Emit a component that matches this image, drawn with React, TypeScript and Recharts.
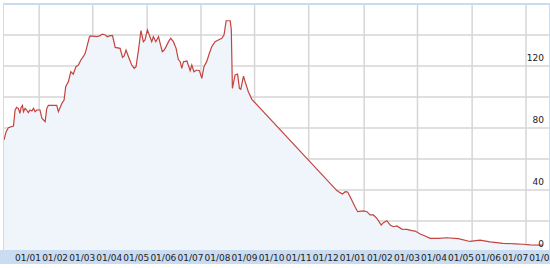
import { AreaChart, Area, XAxis, YAxis, CartesianGrid } from "recharts";

// month offsets (0 = 01/01 of first year) and values
const months = [
  -0.41, -0.33, -0.25, -0.06, 0, 0.06, 0.12, 0.18, 0.22, 0.27, 0.31, 0.37, 0.43, 0.49,
  0.55, 0.62, 0.68, 0.74, 0.8, 0.92, 0.99, 1.11, 1.17, 1.23, 1.54, 1.6, 1.73, 1.81,
  1.87, 1.97, 2.06, 2.15, 2.25, 2.34, 2.43, 2.52, 2.59, 2.67, 2.75, 2.8, 3.02, 3.14,
  3.23, 3.33, 3.41, 3.51, 3.6, 3.7, 3.88, 3.97, 4.03, 4.1, 4.19, 4.31, 4.4, 4.47,
  4.56, 4.65, 4.74, 4.8, 4.89, 4.96, 5.05, 5.11, 5.2, 5.3, 5.36, 5.44, 5.51, 5.58,
  5.67, 5.75, 5.85, 5.95, 6.03, 6.1, 6.16, 6.22, 6.35, 6.4, 6.47, 6.53, 6.61, 6.71,
  6.81, 6.9, 6.98, 7.08, 7.18, 7.27, 7.39, 7.51, 7.64, 7.72, 7.8, 7.95, 7.99, 8.03,
  8.13, 8.22, 8.29, 8.34, 8.44, 8.5, 8.62, 8.75, 11.89, 12.01, 12.1, 12.2, 12.29,
  12.44, 12.56, 12.66, 12.87, 13.0, 13.12, 13.24, 13.37, 13.53, 13.61, 13.74, 13.86,
  13.98, 14.11, 14.29, 14.48, 14.66, 14.78, 14.97, 15.15, 15.34, 15.64, 15.95, 16.38,
  16.81, 17.18, 17.55, 18.03, 18.48, 18.77, 19.03, 19.51,
];
const values = [
  72.3, 77.6, 80.2, 81.3, 91.6, 93.3, 92.7, 89.5, 93.3, 94.6, 90.5, 92.7, 91.6, 89.9,
  91.6, 91, 92.7, 90.5, 91.6, 91.6, 86.3, 84.1, 92.7, 94.6, 94.6, 90.5, 95.9, 98,
  106.6, 109.9, 116.3, 114.8, 119.6, 120.6, 123.9, 126, 128.2, 133.5, 138.9, 139.4, 138.9, 139.6,
  140.6, 140, 138.9, 139.6, 139.6, 132, 131.4, 125.6, 126.5, 130.3, 126, 120.6, 118.5, 119.6,
  130.3, 142.8, 135.7, 136.8, 143.2, 140, 135.7, 138.9, 135.7, 138.9, 134.6, 129.2, 130.3, 132.5,
  135.7, 137.9, 135.7, 131.4, 124.3, 122.8, 118.5, 122.8, 123.2, 120.6, 117, 120.6, 116.3, 117.4,
  117, 112, 119.6, 122.8, 128.2, 132.5, 135.7, 136.8, 137.9, 140, 149.2, 149.2, 143.2, 105.6,
  114.2, 114.8, 105.6, 105, 113.5, 109.9, 103.4, 98.5, 39.6, 38.3, 37.4, 38.9, 38.7,
  33.5, 29.2, 26, 26.5, 26, 23.9, 23.9, 21.7, 17.4, 18.9, 20.2, 17.4,
  16.3, 16.8, 14.8, 14.6, 13.8, 13.5, 11.6, 10.3, 8.8, 8.8, 9.2, 8.6,
  6.8, 7.6, 6.5, 5.6, 5.3, 5.0, 4.6, 4.4,
];

const monthTicks = [0, 1, 2, 3, 4, 5, 6, 7, 8, 9, 10, 11, 12, 13, 14, 15, 16, 17, 18, 19];
const monthLabels = [
  "01/01", "01/02", "01/03", "01/04", "01/05", "01/06", "01/07", "01/08", "01/09", "01/10",
  "01/11", "01/12", "01/01", "01/02", "01/03", "01/04", "01/05", "01/06", "01/07", "01/08",
];
const gridMonths = [0.89, 2.87, 4.88, 6.87, 8.85, 10.85, 12.9, 14.87, 16.89, 18.88];
const gridValues = [20, 40, 60, 80, 100, 120, 140];
const valueTicks = [0, 40, 80, 120];

const data = months.map((m, i) => ({ m, v: values[i] }));

const FONT = "DejaVu Sans, Verdana, sans-serif";

const MonthTick = (props: any) => {
  const { x, y, index, payload } = props;
  const i = monthTicks.indexOf(payload.value);
  return (
    <g>
      {index === 0 && <rect x={0} y={y - 2} width={550} height={14} fill="#c9dcf1" />}
      <text x={x} y={y + 9} textAnchor="start" fontSize={9} fontFamily={FONT} fill="#222">
        {monthLabels[i]}
      </text>
    </g>
  );
};

const ValueTick = (props: any) => {
  const { x, y, payload } = props;
  return (
    <text x={x - 5} y={y - 5} textAnchor="end" fontSize={9} fontFamily={FONT} fill="#222">
      {payload.value}
    </text>
  );
};

export default function App() {
  return (
    <div style={{ position: "absolute", left: 0, top: 0, width: 550, height: 268, background: "#fff" }}>
      <AreaChart width={550} height={268} data={data} margin={{ top: 4, right: 1, left: 4, bottom: 0 }}>
        <CartesianGrid
          stroke="#d6d6d6"
          strokeWidth={1.5}
          horizontalValues={gridValues}
          verticalValues={gridMonths}
        />
        <Area
          type="linear"
          dataKey="v"
          stroke="#c4433e"
          strokeWidth={1.2}
          fill="#f0f4fb"
          fillOpacity={1}
          dot={false}
          activeDot={false}
          isAnimationActive={false}
        />
        <XAxis
          dataKey="m"
          type="number"
          domain={[-0.41, 19.73]}
          ticks={monthTicks}
          interval={0}
          allowDataOverflow
          height={16}
          axisLine={false}
          tickLine={false}
          tickSize={0}
          tickMargin={0}
          tick={<MonthTick />}
        />
        <YAxis
          orientation="right"
          mirror
          width={40}
          domain={[0, 160]}
          ticks={valueTicks}
          interval={0}
          axisLine={false}
          tickLine={false}
          tickSize={0}
          tickMargin={0}
          tick={<ValueTick />}
        />
      </AreaChart>
      <div
        style={{
          position: "absolute",
          left: 3,
          top: 3,
          width: 545,
          height: 247,
          borderTop: "2px solid #c9dcf1",
          borderLeft: "1px solid #c9dcf1",
          borderRight: "1px solid #c9dcf1",
          pointerEvents: "none",
        }}
      />
    </div>
  );
}
